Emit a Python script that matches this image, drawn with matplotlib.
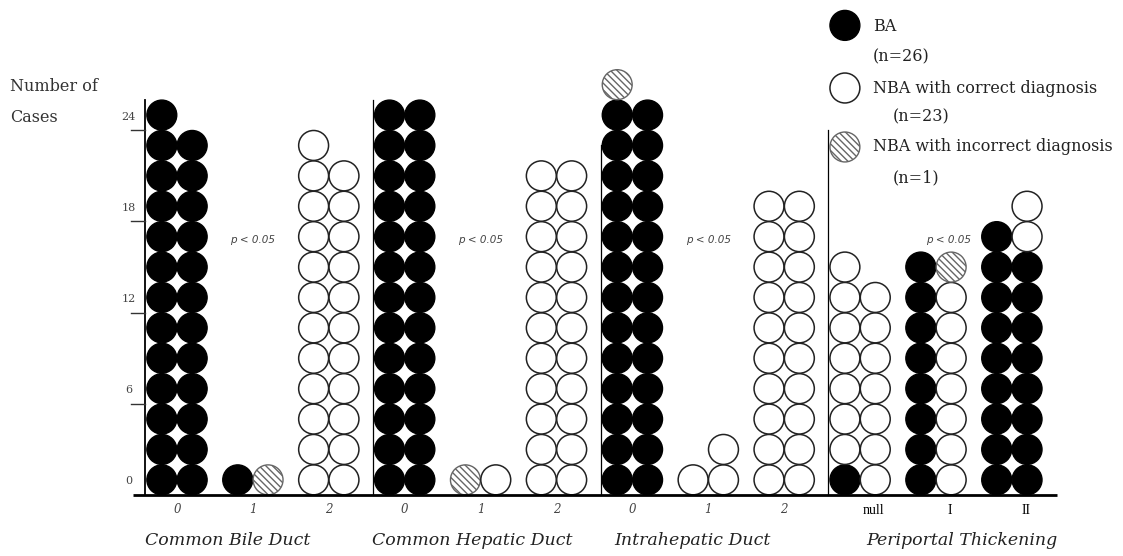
import matplotlib
matplotlib.use("Agg")
import matplotlib.pyplot as plt
from matplotlib.patches import Ellipse

# ---------------- data ----------------
groups = ["Common Bile Duct", "Common Hepatic Duct", "Intrahepatic Duct", "Periportal Thickening"]
categories = ["0", "1", "2", "0", "1", "2", "0", "1", "2", "null", "I", "II"]
# number of circles (cases) in the left / right column of each category
ba_left = [13, 1, 0, 13, 0, 0, 13, 0, 0, 1, 8, 9]
ba_right = [12, 0, 0, 13, 0, 0, 13, 0, 0, 0, 0, 8]
nba_ok_left = [0, 0, 12, 0, 0, 11, 0, 1, 10, 7, 0, 0]
nba_ok_right = [0, 0, 11, 0, 1, 11, 0, 2, 10, 7, 7, 2]
nba_bad_left = [0, 0, 0, 0, 1, 0, 1, 0, 0, 0, 0, 0]
nba_bad_right = [0, 1, 0, 0, 0, 0, 0, 0, 0, 0, 1, 0]
yticks = [0, 6, 12, 18, 24]
legend_labels = ["BA", "(n=26)", "NBA with correct diagnosis", "(n=23)",
                 "NBA with incorrect diagnosis", "(n=1)"]
p_text = "p < 0.05"

# ---------------- styles ----------------
W, H = 1123, 556
fig = plt.figure(figsize=(W / 100, H / 100), dpi=100)
ax = fig.add_axes([0, 0, 1, 1])
ax.set_xlim(-2.332, 12.464)
ax.set_ylim(-4.01, 32.57)
ax.axis("off")

CW, CH = 0.4, 2.0   # circle size in data units (x: category index, y: cases)
styles = {
    "ba": dict(facecolor="black", edgecolor="black", lw=1.0),
    "ok": dict(facecolor="white", edgecolor="#222222", lw=1.1),
    "bad": dict(facecolor="white", edgecolor="#666666", lw=1.0, hatch="\\\\\\\\\\"),
}
plt.rcParams["hatch.linewidth"] = 1.0

def circle(x, y, kind):
    ax.add_patch(Ellipse((x, y), CW * 0.985, CH * 0.985, zorder=3, **styles[kind]))

for i in range(len(categories)):
    for side, col in ((-1, (ba_left, nba_ok_left, nba_bad_left)),
                      (1, (ba_right, nba_ok_right, nba_bad_right))):
        x = i + side * 0.2
        k = 0
        for kind, arr in zip(("ba", "ok", "bad"), col):
            for _ in range(arr[i]):
                circle(x, 2 * k + 1, kind)
                k += 1

# baseline
ax.plot([-0.58, 11.59], [0, 0], color="black", lw=2.0, zorder=4, solid_capstyle="butt")
# group separators (first one is the y axis)
sep_tops = [26, 26, 23, 24]
for g, top in enumerate(sep_tops):
    xs = 3 * g - 0.42
    ax.plot([xs, xs], [0, top], color="black", lw=0.9 if g else 1.3, zorder=2)

# y ticks
for t in yticks:
    if t > 0:
        ax.plot([-0.6, -0.42], [t, t], color="#333333", lw=1.0, zorder=2)
    ax.text(-0.64, t + 0.9, str(t), ha="center", va="center", fontsize=8,
            family="DejaVu Serif", color="#444444")

ax.text(-2.2, 26.9, "Number of", ha="left", va="center", fontsize=11.5,
        family="DejaVu Serif", color="#333333")
ax.text(-2.2, 24.87, "Cases", ha="left", va="center", fontsize=11.5,
        family="DejaVu Serif", color="#333333")

# category labels
for i, c in enumerate(categories):
    if i < 9:
        ax.text(i, -0.95, c, ha="center", va="center", fontsize=8.5, style="italic",
                family="DejaVu Serif", color="#444444")
    else:
        ax.text(i + 0.18, -1.0, c, ha="center", va="center", fontsize=10,
                family="Liberation Serif", color="black")

group_label_x = [0.67, 3.89, 6.79, 10.34]
for gx, g in zip(group_label_x, groups):
    ax.text(gx, -2.96, g, ha="center", va="center", fontsize=12.5, style="italic",
            family="DejaVu Serif", color="#222222")

p_x = [1, 4, 7, 10.16]
for px in p_x:
    ax.text(px, 16.8, p_text, ha="center", va="center", fontsize=7.5, style="italic",
            family="DejaVu Sans", color="#444444", zorder=5)

# legend
leg_x = 8.80
leg_y = [30.9, 26.78, 22.9]
for yy, kind in zip(leg_y, ("ba", "ok", "bad")):
    circle(leg_x, yy, kind)
text_pos = [(9.17, 30.8), (9.17, 28.8), (9.17, 26.78), (9.43, 24.87), (9.17, 22.9), (9.43, 20.9)]
for (tx, ty), lab in zip(text_pos, legend_labels):
    ax.text(tx, ty, lab, ha="left", va="center", fontsize=11.5,
            family="DejaVu Serif", color="#222222")

fig.savefig("out.png", dpi=100)
